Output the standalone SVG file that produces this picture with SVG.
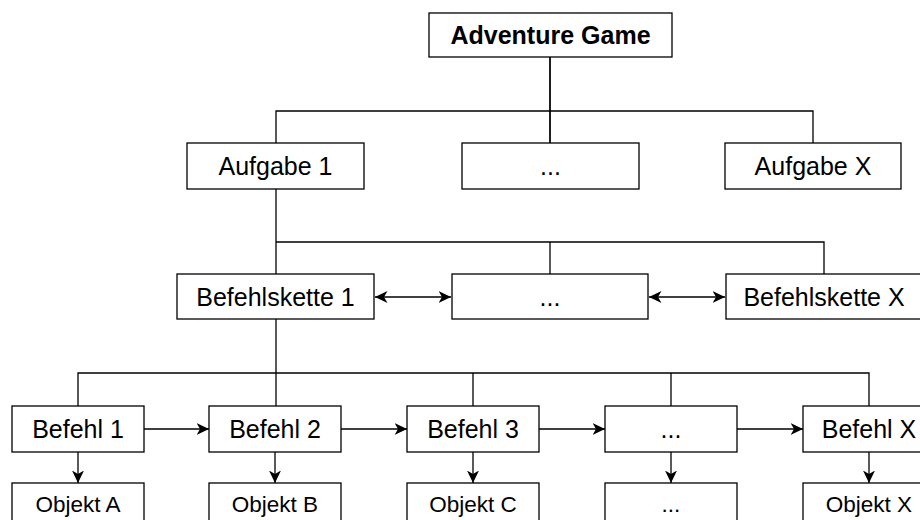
<svg xmlns="http://www.w3.org/2000/svg" width="920" height="520" viewBox="0 0 920 520">
  <style>
    .box { fill: #ffffff; stroke: #000000; stroke-width: 1.3; }
    .lbl { font-family: "Liberation Sans", Arial, sans-serif; font-size: 25px; fill: #000000; text-anchor: middle; }
    .title { font-weight: bold; }
    .small { font-size: 22.5px; }
    .wire { fill: none; stroke: #000000; stroke-width: 1.3; }
    .arrow { fill: none; stroke: #000000; stroke-width: 1.3; marker-end: url(#head); }
    .both { fill: none; stroke: #000000; stroke-width: 1.3; marker-start: url(#tail); marker-end: url(#head); }
  </style>
  <defs>
    <marker id="head" markerUnits="userSpaceOnUse" markerWidth="14" markerHeight="14" refX="12.5" refY="6" orient="auto">
      <path d="M0,0 L12.5,6 L0,12 L3.5,6 Z" fill="#000000"/>
    </marker>
    <marker id="tail" markerUnits="userSpaceOnUse" markerWidth="14" markerHeight="14" refX="0" refY="6" orient="auto">
      <path d="M12.5,0 L0,6 L12.5,12 L9,6 Z" fill="#000000"/>
    </marker>
  </defs>

  <!-- connectors -->
  <g id="connectors">
    <!-- game to tasks -->
    <path class="wire" d="M550,57 V111 H276 V143"/>
    <path class="wire" d="M550,57 V143"/>
    <path class="wire" d="M550,111 H813 V143"/>
    <path class="wire" d="M550,111 V143"/>
    <!-- task 1 to command chains -->
    <path class="wire" d="M276,189 V274"/>
    <path class="wire" d="M276,242 H824 V274"/>
    <path class="wire" d="M550,242 V274"/>
    <!-- command chain 1 to commands -->
    <path class="wire" d="M276,319 V406"/>
    <path class="wire" d="M78,406 V373 H869 V406"/>
    <path class="wire" d="M473,373 V406"/>
    <path class="wire" d="M671,373 V406"/>
    <!-- chain links -->
    <path class="both" d="M375,297 H451"/>
    <path class="both" d="M649,297 H725"/>
    <!-- command sequence -->
    <path class="arrow" d="M144,429 H209"/>
    <path class="arrow" d="M341,429 H407"/>
    <path class="arrow" d="M539,429 H605"/>
    <path class="arrow" d="M737,429 H803"/>
    <!-- commands to objects -->
    <path class="arrow" d="M78,452 V483"/>
    <path class="arrow" d="M275,452 V483"/>
    <path class="arrow" d="M473,452 V483"/>
    <path class="arrow" d="M671,452 V483"/>
    <path class="arrow" d="M869,452 V483"/>
  </g>

  <g id="adventure-game">
    <rect class="box" x="429" y="13" width="243" height="44"/>
    <text class="lbl title" x="550.5" y="44">Adventure Game</text>
  </g>

  <g id="aufgabe-1">
    <rect class="box" x="187" y="143" width="177" height="46"/>
    <text class="lbl" x="275.5" y="175">Aufgabe 1</text>
  </g>
  <g id="aufgabe-mid">
    <rect class="box" x="462" y="143" width="177" height="46"/>
    <text class="lbl" x="550.5" y="175">...</text>
  </g>
  <g id="aufgabe-x">
    <rect class="box" x="725" y="143" width="176" height="46"/>
    <text class="lbl" x="813" y="175">Aufgabe X</text>
  </g>

  <g id="befehlskette-1">
    <rect class="box" x="177" y="274" width="197" height="45"/>
    <text class="lbl" x="275.5" y="305.5">Befehlskette 1</text>
  </g>
  <g id="befehlskette-mid">
    <rect class="box" x="452" y="274" width="196" height="45"/>
    <text class="lbl" x="550" y="305.5">...</text>
  </g>
  <g id="befehlskette-x">
    <rect class="box" x="726" y="274" width="196" height="45"/>
    <text class="lbl" x="824" y="305.5">Befehlskette X</text>
  </g>

  <g id="befehl-1">
    <rect class="box" x="12" y="406" width="132" height="46"/>
    <text class="lbl" x="78" y="437.5">Befehl 1</text>
  </g>
  <g id="befehl-2">
    <rect class="box" x="209" y="406" width="132" height="46"/>
    <text class="lbl" x="275" y="437.5">Befehl 2</text>
  </g>
  <g id="befehl-3">
    <rect class="box" x="407" y="406" width="132" height="46"/>
    <text class="lbl" x="473" y="437.5">Befehl 3</text>
  </g>
  <g id="befehl-mid">
    <rect class="box" x="605" y="406" width="132" height="46"/>
    <text class="lbl" x="671" y="437.5">...</text>
  </g>
  <g id="befehl-x">
    <rect class="box" x="803" y="406" width="132" height="46"/>
    <text class="lbl" x="869" y="437.5">Befehl X</text>
  </g>

  <g id="objekt-a">
    <rect class="box" x="12" y="483" width="132" height="46"/>
    <text class="lbl small" x="78" y="512">Objekt A</text>
  </g>
  <g id="objekt-b">
    <rect class="box" x="209" y="483" width="132" height="46"/>
    <text class="lbl small" x="275" y="512">Objekt B</text>
  </g>
  <g id="objekt-c">
    <rect class="box" x="407" y="483" width="132" height="46"/>
    <text class="lbl small" x="473" y="512">Objekt C</text>
  </g>
  <g id="objekt-mid">
    <rect class="box" x="605" y="483" width="132" height="46"/>
    <text class="lbl small" x="671" y="512">...</text>
  </g>
  <g id="objekt-x">
    <rect class="box" x="803" y="483" width="132" height="46"/>
    <text class="lbl small" x="869" y="512">Objekt X</text>
  </g>
</svg>
